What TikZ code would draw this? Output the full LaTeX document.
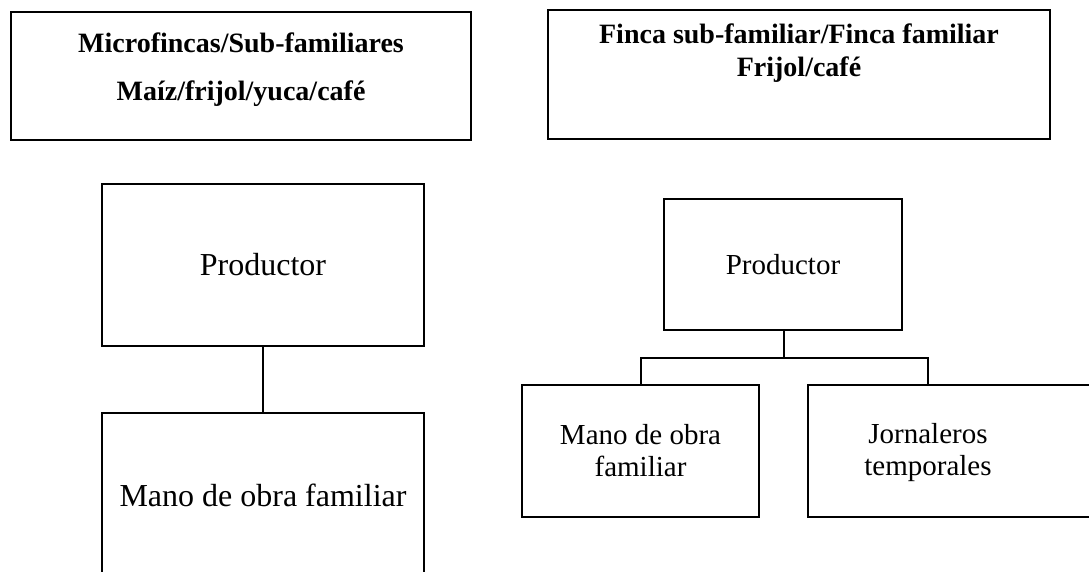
\documentclass[tikz,border=0pt]{standalone}
\usepackage{fontspec}
\setmainfont{Liberation Serif}
\begin{document}
\begin{tikzpicture}[x=1pt,y=-1pt,
  boxstyle/.style={draw=black,line width=2pt,rectangle,inner sep=0pt,outer sep=0pt},
  headtext/.style={font=\fontsize{28}{30}\selectfont\bfseries,anchor=base,inner sep=0pt},
  bigtext/.style={font=\fontsize{32}{36}\selectfont,inner sep=0pt},
  smalltext/.style={font=\fontsize{29}{32}\selectfont,align=center,inner sep=0pt},
  conn/.style={draw=black,line width=2pt}]
\useasboundingbox (0,0) rectangle (1089,571);
\clip (0,0) rectangle (1089,571);
% header boxes
\node[boxstyle,minimum width=460pt,minimum height=128pt] (H1) at (241,76) {};
\node[headtext] (H1a) at (241,52) {Microfincas/Sub-familiares};
\node[headtext] (H1b) at (241,100) {Maíz/frijol/yuca/café};
\node[boxstyle,minimum width=502pt,minimum height=129pt] (H2) at (799,74.5) {};
\node[headtext] (H2a) at (799,43) {Finca sub-familiar/Finca familiar};
\node[headtext] (H2b) at (799,76) {Frijol/café};
% left tree
\node[boxstyle,bigtext,minimum width=322pt,minimum height=162pt] (P1) at (263,265) {Productor};
\node[boxstyle,bigtext,minimum width=322pt,minimum height=164pt] (M1) at (263,495) {Mano de obra familiar};
\draw[conn] (P1.south) -- (M1.north);
% right tree
\node[boxstyle,smalltext,minimum width=238pt,minimum height=131pt] (P2) at (783,264.5) {Productor};
\node[boxstyle,smalltext,minimum width=237pt,minimum height=132pt] (M2) at (640.5,451) {Mano de obra\\familiar};
\node[boxstyle,minimum width=292pt,minimum height=132pt] (J2) at (954,451) {};
\node[smalltext] (J2t) at (928,453) {Jornaleros\\temporales};
\coordinate (bus) at (784,358);
\draw[conn] (P2.south -| bus) -- (bus);
\draw[conn] (bus) -| (M2.north);
\draw[conn] (bus) -| (J2t |- J2.north);
\end{tikzpicture}
\end{document}
